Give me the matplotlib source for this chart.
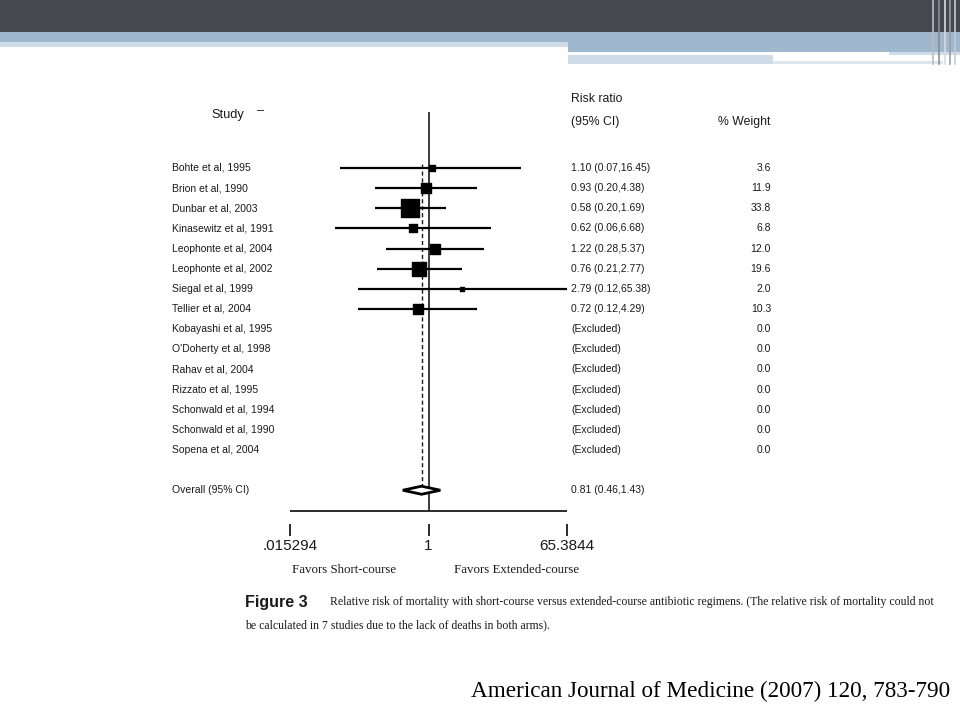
#!/usr/bin/env python3
"""
Forest plot slide: short-course vs extended-course antibiotics, mortality.
Output: out.png
"""
import matplotlib.pyplot as plt
import matplotlib.transforms as mtransforms
from matplotlib.patches import Rectangle

# ---- data -------------------------------------------------------------
studies = ['Bohte et al, 1995', 'Brion et al, 1990', 'Dunbar et al, 2003',
           'Kinasewitz et al, 1991', 'Leophonte et al, 2004', 'Leophonte et al, 2002',
           'Siegal et al, 1999', 'Tellier et al, 2004', 'Kobayashi et al, 1995',
           "O'Doherty et al, 1998", 'Rahav et al, 2004', 'Rizzato et al, 1995',
           'Schonwald et al, 1994', 'Schonwald et al, 1990', 'Sopena et al, 2004']
rr = [1.10, 0.93, 0.58, 0.62, 1.22, 0.76, 2.79, 0.72]
ci_lo = [0.07, 0.20, 0.20, 0.06, 0.28, 0.21, 0.12, 0.12]
ci_hi = [16.45, 4.38, 1.69, 6.68, 5.37, 2.77, 65.38, 4.29]
weights = [3.6, 11.9, 33.8, 6.8, 12.0, 19.6, 2.0, 10.3, 0.0, 0.0, 0.0, 0.0, 0.0, 0.0, 0.0]
overall = (0.81, 0.46, 1.43)
x_ticks = [0.015294, 1, 65.3844]
x_ticklabels = ['.015294', '1', '65.3844']

SANS = 'Liberation Sans'
SERIF = 'Liberation Serif'
INK = '#1a1a1a'


def main():
    fig = plt.figure(figsize=(9.6, 7.2), dpi=100)
    bg = fig.add_axes([0, 0, 1, 1])
    bg.set_xlim(0, 960)
    bg.set_ylim(720, 0)
    bg.axis('off')

    # slide header decoration
    bg.add_patch(Rectangle((0, 0), 960, 32, color='#474750', lw=0))
    bg.add_patch(Rectangle((0, 32), 960, 10, color='#a0b8cd', lw=0))
    bg.add_patch(Rectangle((0, 42), 568, 5, color='#cfdce7', lw=0))
    bg.add_patch(Rectangle((568, 42), 392, 10, color='#a0b8cd', lw=0))
    bg.add_patch(Rectangle((889, 52), 71, 3, color='#cfdce7', lw=0))
    bg.add_patch(Rectangle((568, 55), 205, 9, color='#cfdce7', lw=0))
    bg.add_patch(Rectangle((773, 61), 170, 3, color='#dde6ee', lw=0))
    for xv, c in [(933, '#b9bcc4'), (939, '#8a8d96'), (945, '#d8dbe0'), (950, '#9a9da6'), (955, '#c8cbd2')]:
        bg.plot([xv, xv], [0, 64], color=c, lw=1.2)

    # forest axes: log scale in x, row index in y
    row0, rowh = 168, 20.14
    fp = fig.add_axes([290 / 960, 0, 277 / 960, 1])
    fp.set_xscale('log')
    fp.set_xlim(x_ticks[0], x_ticks[-1])
    fp.set_ylim((720 - row0) / rowh, -row0 / rowh)
    fp.patch.set_alpha(0)
    for s in ['left', 'right', 'top']:
        fp.spines[s].set_visible(False)
    fp.spines['bottom'].set_position(('data', (524 - row0) / rowh))
    fp.spines['bottom'].set_visible(False)
    fp.yaxis.set_visible(False)
    fp.minorticks_off()
    fp.set_xticks(x_ticks)
    fp.set_xticklabels(x_ticklabels, fontsize=11, family=SANS, color=INK)
    fp.tick_params(axis='x', direction='out', length=8.5, width=1.3, pad=2, color=INK)

    n_over = len(studies) + 1
    fp.axhline(n_over + 1.03, color=INK, lw=1.3)
    fp.vlines(1, -2.78, n_over + 1.03, color=INK, lw=1.2)
    fp.vlines(overall[0], -0.2, n_over - 0.2, color=INK, lw=1.0, linestyles=(0, (3, 2)))

    for i, (r, lo, hi, w) in enumerate(zip(rr, ci_lo, ci_hi, weights)):
        fp.plot([lo, hi], [i, i], color='black', lw=1.6, clip_on=False, solid_capstyle='butt')
        fp.scatter([r], [i], s=5 * w, marker='s', color='black', zorder=3, clip_on=False)

    est, lo, hi = overall
    fp.fill([lo, est, hi, est], [n_over, n_over - 0.2, n_over, n_over + 0.2],
            facecolor='white', edgecolor='black', lw=2.0, zorder=4)

    # text columns (x in slide pixels, y in row index)
    tr = mtransforms.blended_transform_factory(bg.transData, fp.transData)
    for i, name in enumerate(studies):
        bg.text(172, i, name, transform=tr, fontsize=7.5, family=SANS, color=INK, va='center')
        if i < len(rr):
            txt = f'{rr[i]:.2f} ({ci_lo[i]:.2f},{ci_hi[i]:.2f})'
        else:
            txt = '(Excluded)'
        bg.text(571, i, txt, transform=tr, fontsize=7.5, family=SANS, color=INK, va='center')
        bg.text(771, i, f'{weights[i]:.1f}', transform=tr, fontsize=7.5, family=SANS,
                color=INK, va='center', ha='right')
    bg.text(172, n_over, 'Overall (95% CI)', transform=tr, fontsize=7.5, family=SANS,
            color=INK, va='center')
    bg.text(571, n_over, f'{est:.2f} ({lo:.2f},{hi:.2f})', transform=tr, fontsize=7.5,
            family=SANS, color=INK, va='center')

    # headers
    bg.text(211, 115, 'Study', fontsize=9.2, family=SANS, color=INK, va='center')
    bg.text(257, 111, '\u2013', fontsize=9, family=SANS, color=INK, va='center')
    bg.text(571, 99, 'Risk ratio', fontsize=8.8, family=SANS, color=INK, va='center')
    bg.text(571, 122, '(95% CI)', fontsize=8.8, family=SANS, color=INK, va='center')
    bg.text(770, 122, '% Weight', fontsize=8.8, family=SANS, color=INK, va='center', ha='right')

    bg.text(344, 570, 'Favors Short-course', fontsize=9.3, family=SERIF, color=INK,
            va='center', ha='center')
    bg.text(517, 570, 'Favors Extended-course', fontsize=9.3, family=SERIF, color=INK,
            va='center', ha='center')

    # figure caption
    bg.text(245, 602, 'Figure 3', fontsize=11.5, family=SANS, weight='bold', color=INK, va='center')
    bg.text(330, 602, 'Relative risk of mortality with short-course versus extended-course '
            'antibiotic regimens. (The relative risk of mortality could not',
            fontsize=8.5, family=SERIF, color=INK, va='center')
    bg.text(245, 625, 'be calculated in 7 studies due to the lack of deaths in both arms).',
            fontsize=8.5, family=SERIF, color=INK, va='center')

    bg.text(950, 691, 'American Journal of Medicine (2007) 120, 783-790', fontsize=16.7,
            family=SERIF, color='black', va='center', ha='right')

    fig.savefig('out.png', dpi=100, facecolor='white')


if __name__ == '__main__':
    main()
